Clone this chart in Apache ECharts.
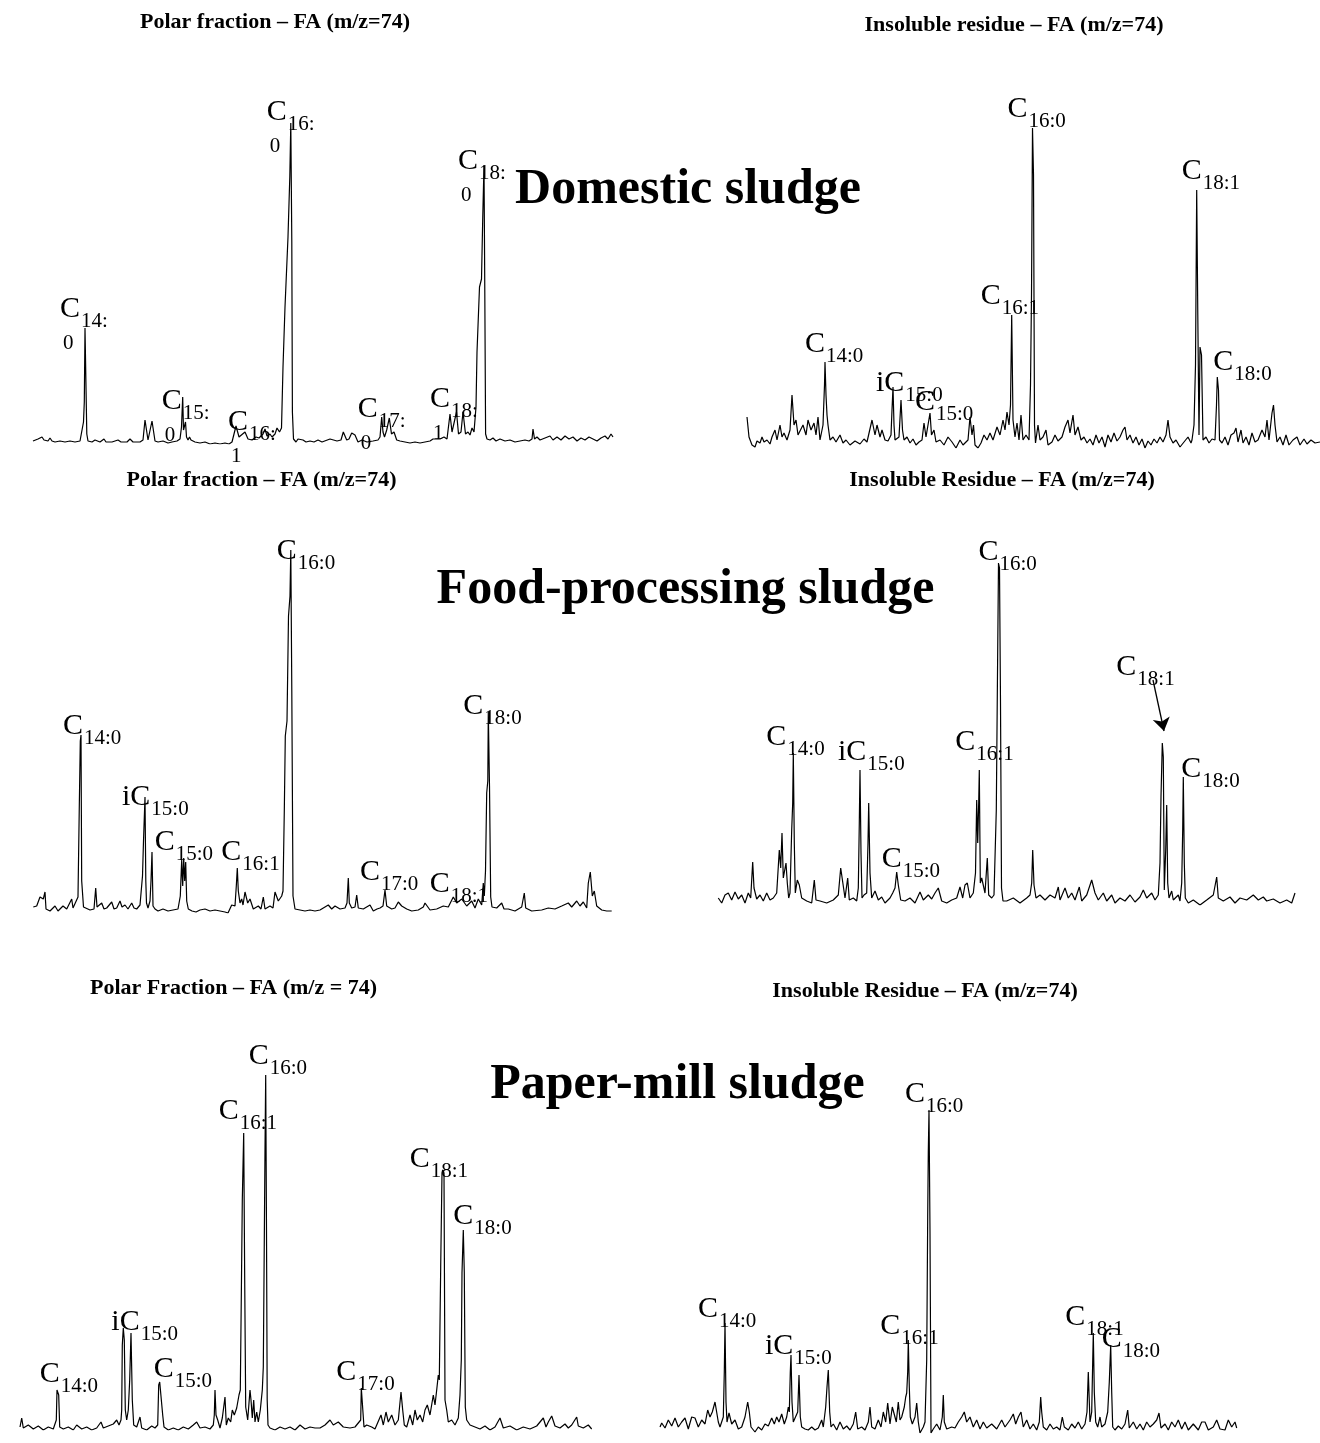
<!DOCTYPE html>
<html>
<head>
<meta charset="utf-8">
<script src="https://cdn.jsdelivr.net/npm/echarts@6/dist/echarts.min.js"></script>
<style>html,body{margin:0;padding:0;background:#fff}#c{width:1320px;height:1443px}</style>
</head>
<body>
<div id="c"></div>
<script>
// ---- Chromatogram traces: [scan position, abundance above baseline] ----
const p1Trace = [[3,1],[5,0],[8,3],[10,1],[12,5],[14,2],[16,4],[18,1],[20,4],[22,1],[25,0],[30,1],[35,0],[40,1],[45,0],[50,1],[52,3],[53.5,20],[54.3,40],[55,114],[56,112],[56.8,8],[58,1],[62,0],[65,2],[67,0],[70,0],[74,3],[76,0],[82,0],[88,2],[91,0],[97,0],[100,3],[103,0],[110,0],[113,2],[115,22],[116.5,20],[118,2],[120,3],[122,21],[123.5,20],[125,1],[128,0],[133,1],[138,-1],[142,0],[147,1],[150,3],[151.5,15],[152.7,45],[153.5,12],[154.5,10],[155.5,20],[156.5,5],[158,2],[159.5,5],[161,2],[165,0],[170,-1],[175,0],[180,-2],[185,-1],[190,-2],[195,-1],[199,-2],[202,0],[204,2],[206,16],[208,17],[209,5],[211,4],[215,10],[218,3],[222,2],[226,5],[229,4],[233,8],[235,13],[237,6],[240,8],[242,5],[245,8],[247,14],[249.5,10],[251.5,14],[253,75],[255,135],[258,205],[259.8,265],[260.8,319],[261.8,200],[262.4,30],[263.5,3],[266,0],[268,3],[270,1],[273,2],[276,0],[280,1],[284,0],[288,2],[292,0],[300,3],[307,1],[311,2],[313.3,10],[316.7,2],[319,3],[321.7,9],[325,7],[328,0],[332,2],[337,0],[343,1],[348,2],[350,5],[351.7,25],[353,10],[354.5,5],[356.7,12],[359.3,24],[361.5,8],[364,10],[366.7,2],[370,1],[375,0],[380,-1],[385,0],[390,-1],[395,0],[400,1],[403,3],[405,2],[410,3],[414,5],[417,3],[420,28],[422,10],[424,8],[426.5,30],[428.5,8],[431,10],[433,30],[435.5,8],[438,10],[440,7],[442,14],[444,10],[446,35],[447,90],[449.5,155],[451.5,163],[452.7,222],[454,277],[454.8,150],[455.6,8],[457,3],[460,2],[463,4],[466,1],[470,3],[475,1],[480,2],[485,0],[490,1],[495,2],[499,1],[502,3],[503,13],[504.5,3],[507,5],[510,2],[515,4],[520,6],[523,2],[527,5],[531,2],[535,6],[539,3],[543,5],[547,1],[551,4],[555,2],[559,5],[563,3],[567,1],[571,4],[575,6],[578,3],[581,8],[583,5]];

const p2Trace = [[7,28],[9,8],[12,0],[15,-2],[17,4],[20,2],[22,8],[24,3],[27,5],[30,1],[32,8],[35,15],[37,5],[40,20],[42,8],[44,12],[47,5],[50,15],[52,50],[54,20],[56,25],[58,10],[60,8],[63,20],[66,10],[68,25],[71,15],[74,22],[76,10],[78,28],[80,5],[83,20],[84.5,60],[85,83],[86,50],[87,30],[88,20],[90,5],[93,8],[96,3],[100,10],[103,2],[106,5],[110,0],[115,4],[120,1],[124,6],[127,3],[132,25],[135,10],[137,20],[140,8],[142,15],[145,5],[148,4],[151,10],[152,35],[153,58],[154,20],[155,5],[157,4],[159,8],[161,45],[162.5,15],[164,5],[167,8],[170,2],[173,6],[176,0],[179,3],[182,5],[184,22],[186,8],[188,10],[190,32],[191.5,10],[194,15],[196,3],[200,5],[204,0],[208,8],[212,3],[216,-3],[220,5],[223,0],[228,5],[230,28],[232,10],[233.5,20],[235,0],[238,-3],[241,2],[244,10],[247,5],[250,12],[253,5],[257,18],[260,10],[263,25],[265,15],[267,33],[269,20],[270.5,40],[271.7,130],[273,25],[275,8],[277,22],[279,5],[281,30],[283,5],[286,10],[289,5],[290.5,60],[291.5,150],[292.5,317],[293.5,270],[294.5,20],[295.5,2],[298,20],[300,5],[303,8],[306,15],[308,0],[312,3],[315,10],[318,4],[322,8],[325,18],[328,25],[330,12],[333,30],[335,10],[338,18],[341,5],[344,8],[347,2],[350,6],[353,0],[356,10],[359,2],[362,8],[365,-2],[368,10],[371,3],[374,12],[377,4],[380,8],[383,15],[385,18],[387,5],[390,10],[393,2],[396,8],[399,0],[402,6],[405,-3],[408,4],[411,0],[414,6],[417,2],[420,8],[423,3],[426,10],[428,25],[430,8],[433,2],[436,5],[440,-2],[444,3],[448,8],[451,2],[452,5],[454,20],[455.5,80],[456.7,255],[457.8,130],[459,10],[460,98],[461.5,90],[463,5],[466,8],[469,2],[472,6],[475,5],[476.5,40],[477.3,68],[478.5,55],[479.5,5],[482,2],[485,8],[488,0],[491,10],[494,12],[496,17],[498,3],[501,15],[503,2],[506,8],[509,0],[512,12],[515,3],[518,5],[522,15],[525,8],[527,25],[529,5],[532,32],[533.5,40],[535,20],[537,3],[540,8],[543,0],[546,10],[549,0],[553,5],[557,8],[560,0],[564,6],[567,1],[571,5],[575,2],[580,3]];

const p3Trace = [[3.3,4],[6.7,5],[10,14],[11.7,16],[13.3,12],[15,19],[16,2],[20,0],[25,5],[28,0],[33,5],[36.7,2],[41.7,12],[43,3],[45,4],[48,14],[49.3,105],[50.3,170],[51,176],[51.7,30],[53.5,4],[55,2],[60,1],[64,2],[65.7,23],[67,4],[71.7,8],[74,2],[76.7,3],[81.7,9],[84,2],[86.7,3],[90,10],[92,4],[95,6],[98,2],[101.7,8],[104,3],[106.7,2],[110,6],[111.5,8],[112.5,35],[113.5,70],[114.3,72],[115,114],[115.8,30],[116.5,8],[118,3],[120,10],[121,30],[122,59],[123,5],[125,2],[128,0],[133,2],[138,0],[143,1],[148,2],[150.3,15],[151.7,51],[152.7,25],[153.7,53],[154.7,30],[155.7,49],[156.7,10],[158.3,2],[162,0],[166,-1],[170,1],[175,2],[180,0],[185,1],[190,0],[195,-1],[198,-2],[201.7,6],[205,5],[206.3,25],[207.3,43],[208.3,20],[210,8],[211.7,12],[213,6],[215,19],[217.7,8],[220,12],[223.3,2],[228.3,5],[231,2],[233.3,14],[235,2],[240,5],[243,3],[245,19],[248.3,10],[251.7,15],[253,20],[254.3,100],[255.3,175],[257,190],[258.5,295],[260,315],[260.8,361],[261.8,220],[263,15],[265,2],[270,1],[275,0],[280,1],[285,0],[290,1],[298.3,6],[301.7,2],[305,5],[310,2],[315,3],[317,8],[318.3,33],[319.3,8],[321.7,3],[325,4],[326.7,16],[328.3,3],[333.3,2],[340,6],[343.3,0],[347,2],[350,3],[353,5],[355,21],[356.7,5],[361.7,2],[365,3],[368.3,9],[371.7,5],[376.7,2],[381.7,0],[388.3,1],[393.3,4],[395,8],[400,1],[406.7,2],[413.3,5],[418.3,4],[423.3,14],[426.7,8],[431.7,12],[436.7,5],[441.7,10],[445,3],[448.3,12],[451.7,6],[453.3,28],[454.3,15],[455.5,40],[456.7,118],[457.8,130],[458.3,199],[459.5,125],[460.7,14],[462,4],[466.7,3],[471.7,8],[474,2],[478.3,2],[485,0],[491.7,4],[494.3,18],[495.7,3],[501.7,0],[511.7,1],[518.3,3],[525,2],[531.7,5],[538.3,8],[541.7,4],[546.7,10],[550,5],[553.3,9],[556.7,3],[558.3,28],[560.3,39],[562.3,15],[564.3,20],[566.7,5],[571.7,1],[576.7,0],[581.7,0]];

const p4Trace = [[8.3,5],[11.7,0],[15,8],[18.3,10],[21.7,3],[25,11],[28.3,4],[31.7,8],[35,0],[38.3,10],[40.7,5],[42.7,41],[44,15],[46.7,4],[50,8],[53.3,2],[56.7,10],[60,3],[63.3,5],[66.7,10],[69.3,53],[70.7,35],[72,70],[73.3,25],[75,26],[76,40],[77.3,20],[78.7,5],[80,10],[81.7,73],[82.7,100],[83.3,150],[84.3,60],[85.3,10],[87.3,23],[89.3,18],[91.7,5],[96.7,2],[101.7,0],[104.3,23],[106,3],[110,2],[116.7,0],[123.3,3],[128.3,8],[130.7,35],[132.7,33],[135,5],[137.7,25],[139.3,3],[143.3,5],[146.7,2],[148.3,15],[149.3,80],[150,133],[151,50],[152,5],[154,8],[156.7,10],[158,60],[158.7,100],[160,30],[161.7,5],[165,12],[168.3,3],[171.7,6],[175,0],[180,5],[182.7,10],[185,15],[186.7,31],[188.3,18],[190.7,3],[195,2],[200,5],[205,0],[210,11],[213.3,3],[218.3,8],[221.7,4],[225,10],[228.3,15],[231.7,2],[236.7,0],[241.7,3],[246.7,5],[250,16],[252.7,5],[255,18],[257.3,20],[260,5],[263.3,10],[265.5,30],[266.7,103],[267.7,60],[268.7,100],[269.3,133],[270.3,20],[271.7,25],[273.3,26],[275,10],[277.3,45],[278.7,8],[281.7,5],[284,8],[285,10],[286.3,93],[287.5,230],[288.5,340],[289.5,335],[290.5,200],[291.5,15],[293,2],[296.7,2],[303.3,5],[310,0],[316.7,5],[320,8],[321.7,20],[322.7,53],[324,18],[326,5],[330,8],[335,3],[340,8],[345,5],[348.3,16],[350,3],[355,15],[358.3,5],[361.7,10],[365,3],[369.3,16],[371.7,2],[376.7,8],[381.7,23],[385,10],[388.3,3],[393.3,10],[396.7,2],[401.7,8],[405,0],[410,5],[415,2],[420,8],[425,1],[430,6],[433.3,13],[436.7,5],[441.7,10],[445,3],[448.3,8],[450,40],[451,106],[452.3,160],[453.3,146],[454.3,13],[455.7,53],[456.7,98],[457.7,20],[459,5],[461.7,12],[463.3,3],[468.3,8],[470,2],[471.7,20],[472.7,73],[473.3,126],[474.3,40],[475.3,5],[478.3,0],[483.3,3],[490,-2],[496.7,3],[503.3,8],[506.7,26],[508.3,5],[513.3,2],[520,6],[525,0],[530,5],[536.7,3],[543.3,8],[548.3,3],[553.3,6],[556.7,2],[563.3,4],[570,0],[576.7,3],[581.7,0],[585,10]];

const p5Trace = [[5,3],[6.7,12],[8.3,2],[13.3,5],[18.3,1],[23.3,4],[28.3,0],[33.3,3],[38.3,1],[41.3,10],[42,40],[42.7,42],[43.7,35],[44.7,3],[48.3,1],[53.3,3],[58.3,0],[61.7,5],[66.7,1],[71.7,3],[76.7,0],[81.7,2],[86,8],[88.3,2],[93.3,4],[98.3,6],[101.7,10],[104,5],[106,10],[106.7,20],[107.3,85],[108.3,102],[109.3,90],[110.3,20],[111.7,10],[113.3,20],[114.7,50],[116,97],[117.3,30],[118.7,5],[121.7,3],[125,13],[126.7,2],[131.7,0],[136.7,4],[140,2],[142.7,5],[143.7,45],[144.7,48],[145.7,46],[146.7,48],[147.7,15],[149,3],[153.3,0],[158.3,2],[163.3,0],[168.3,3],[173.3,1],[178.3,5],[181.7,8],[185,2],[190,3],[195,1],[198.3,5],[199.3,15],[200,40],[201,15],[202.7,10],[205,2],[207.3,12],[210,33],[211.3,5],[213.3,12],[215.7,8],[217.3,20],[219.3,15],[221.7,22],[224,35],[225.3,40],[226.3,133],[227.3,230],[228.7,297],[229.7,150],[230.7,23],[232.7,10],[235,40],[236,30],[237.3,12],[238.7,30],[240,8],[241.7,18],[243.3,8],[245.3,20],[247.3,40],[248.3,63],[249.3,190],[250,280],[250.7,355],[251.5,200],[252.2,30],[253,5],[255,2],[260,0],[265,3],[270,1],[275,3],[280,0],[285,5],[290,1],[295,3],[300,2],[305,2],[310,5],[315,10],[318.3,5],[323.3,8],[328.3,3],[335,2],[340,3],[345.7,10],[346.3,42],[347.7,40],[349,3],[351.7,5],[356.7,3],[360,1],[366,15],[368.3,5],[371,18],[373.3,8],[376.7,15],[380,5],[383.3,10],[386,38],[387.7,20],[389.3,5],[391.7,3],[395,15],[397.7,5],[400,20],[402.3,10],[405,15],[407.7,8],[410,20],[412.3,25],[415,15],[418.3,35],[420,25],[421.7,40],[423.3,55],[424.3,50],[425.7,163],[427,257],[427.7,260],[429,257],[430,30],[431.7,20],[433.3,8],[436.7,10],[440,5],[443.3,12],[445,35],[446.3,70],[447,157],[448.3,200],[449.3,157],[450.3,23],[451.7,10],[455,5],[460,3],[465,1],[470,4],[475,0],[480,3],[485,12],[488.3,2],[495,4],[501.7,0],[508.3,3],[515,1],[521.7,4],[528.3,12],[531,3],[533.3,8],[536.7,14],[540,4],[545,2],[550,6],[553.3,2],[556.7,5],[561.7,13],[563.3,4],[568.3,2],[573.3,5],[576.7,1]];

const p6Trace = [[5,5],[6.7,9],[10,4],[13.3,12],[16.7,6],[20,14],[23.3,5],[26.7,10],[30,14],[33.3,3],[36.7,15],[40,14],[43.3,5],[46.7,12],[50,8],[52.7,22],[55,15],[57.3,20],[60,30],[61.7,28],[63.3,10],[65,5],[66.7,3],[68.3,15],[69.3,60],[70,109],[71,30],[72,10],[74,19],[76.7,8],[80,12],[83.3,3],[86.7,5],[90,15],[92.7,30],[94.3,20],[96,5],[100,0],[103.3,5],[106.7,2],[110,8],[113.3,6],[116.7,14],[119.3,8],[121.7,15],[124,10],[126.7,18],[129.3,8],[131.7,15],[133.3,25],[134.3,20],[135.3,60],[136,77],[137,30],[138.3,10],[140,8],[142.7,20],[144,57],[145.3,15],[146.7,5],[150,3],[153.3,2],[156.7,5],[160,2],[163.3,4],[166.7,12],[168.3,5],[170.7,25],[172,45],[173.3,62],[174.7,20],[176,5],[178.3,8],[181.7,2],[185,10],[188.3,3],[191.7,6],[195,2],[198.3,8],[200.7,20],[202.7,3],[206.7,5],[210,2],[213.3,10],[215,25],[216.7,5],[220,3],[223.3,12],[226,5],[228.3,20],[230.7,10],[232.7,29],[235,8],[237.3,25],[239.3,27],[241.3,10],[243.3,30],[245,12],[246.7,15],[249.3,25],[250.7,35],[251.7,39],[252.7,60],[253.3,92],[254.3,45],[255.3,15],[257.3,8],[260,15],[261.7,29],[263.3,10],[265,-1],[268.3,5],[270,10],[271.7,72],[272.7,215],[273.3,280],[274,322],[275,200],[276,-1],[278.3,3],[281.7,8],[285,2],[287.3,15],[288.3,37],[289.3,10],[291.7,3],[296.7,5],[300,4],[303.3,10],[306.7,15],[309.3,20],[311.7,10],[315,15],[318.3,5],[321.7,12],[325,3],[328.3,10],[331.7,4],[336.7,8],[341.7,3],[346.7,12],[350,5],[355,12],[358.3,18],[360.7,8],[363.3,15],[366,20],[368.3,5],[371.7,12],[375,3],[378.3,8],[381.7,2],[384.3,10],[385.7,35],[386.7,20],[388.3,5],[391.7,2],[395,8],[398.3,3],[401.7,5],[405,2],[407.3,15],[409.3,5],[413.3,2],[416.7,8],[420,4],[423.3,10],[426.7,3],[430,8],[432,20],[433.3,60],[435,10],[436.7,20],[437.7,70],[438.3,99],[439.3,40],[440.7,10],[442.7,5],[445,15],[446.7,5],[450,8],[452.7,20],[454.3,50],[455.7,87],[456.7,40],[457.7,5],[460,2],[463.3,6],[466.7,3],[470,8],[472.7,22],[474.3,4],[478.3,10],[481.7,3],[485,8],[488.3,2],[491.7,10],[495,5],[498.3,8],[501.7,12],[504,19],[506,4],[510,8],[513.3,2],[516.7,10],[520,5],[523.3,12],[526.7,3],[530,10],[533.3,2],[538.3,8],[543.3,2],[546.7,10],[550,10],[553.3,2],[558.3,5],[561.7,12],[565,3],[570,2],[573.3,12],[576.7,5],[580,10],[581.7,4]];

// ---- Peak identifications ----
const p1Peaks = ['C14:0', 'C15:0', 'C16:1', 'C16:0', 'C17:0', 'C18:1', 'C18:0'];
const p1PeakX = [55, 152.7, 208, 260.8, 351.7, 420, 454];
const p2Peaks = ['C14:0', 'iC15:0', 'C15:0', 'C16:1', 'C16:0', 'C18:1', 'C18:0'];
const p2PeakX = [85, 153, 190, 271.7, 292.5, 456.7, 477.3];
const p3Peaks = ['C14:0', 'iC15:0', 'C15:0', 'C16:1', 'C16:0', 'C17:0', 'C18:1', 'C18:0'];
const p3PeakX = [51, 115, 153.7, 207.3, 260.8, 355, 431.7, 458.3];
const p4Peaks = ['C14:0', 'iC15:0', 'C15:0', 'C16:1', 'C16:0', 'C18:1', 'C18:0'];
const p4PeakX = [83.3, 150, 186.7, 269.3, 288.5, 452.3, 473.3];
const p5Peaks = ['C14:0', 'iC15:0', 'C15:0', 'C16:1', 'C16:0', 'C17:0', 'C18:1', 'C18:0'];
const p5PeakX = [42.7, 108.3, 144.7, 228.7, 250.7, 346.3, 427.7, 448.3];
const p6Peaks = ['C14:0', 'iC15:0', 'C16:1', 'C16:0', 'C18:1', 'C18:0'];
const p6PeakX = [70, 136, 253.3, 274, 438.3, 455.7];
// arrow pointing at C18:1 (food-processing, insoluble residue)
const p4Arrow = [[443, 223], [454, 172]];

// ---- Texts ----
const sampleTitles = ['Domestic sludge', 'Food-processing sludge', 'Paper-mill sludge'];
const panelTitles = [
  'Polar fraction \u2013 FA (m/z=74)', 'Insoluble residue \u2013 FA (m/z=74)',
  'Polar fraction \u2013 FA (m/z=74)', 'Insoluble Residue \u2013 FA (m/z=74)',
  'Polar Fraction \u2013 FA (m/z = 74)', 'Insoluble Residue \u2013 FA (m/z=74)'
];

// ---- Layout (pixel placement only) ----
const layout = [
  {origin: 30, base: 442, wrap: true,  offsets: [[-25,-28],[-21,-5],[-10,-12],[-24,-20],[-24,-17],[-20,-24],[-26,-13]]},
  {origin: 740, base: 445, wrap: false, offsets: [[-20,-27],[-17,-13],[-15,-20],[-31,-28],[-25,-28],[-15,-28],[-4,-24]]},
  {origin: 30, base: 911, wrap: false, offsets: [[-18,-18],[-23,-9],[-29,-25],[-16,-25],[-14,-8],[-25,-27],[-32,-24],[-25,-15]]},
  {origin: 710, base: 903, wrap: false, offsets: [[-27,-25],[-22,-27],[-15,-22],[-24,-37],[-20,-20],[-46,-85],[-2,-17]]},
  {origin: 15, base: 1430, wrap: false, offsets: [[-18,-23],[-12,-15],[-6,-22],[-25,-31],[-17,-28],[-25,-25],[-33,-20],[-10,-23]]},
  {origin: 655, base: 1432, wrap: false, offsets: [[-27,-23],[-26,-18],[-28,-23],[-24,-25],[-28,-25],[-9,-15]]}
];
const panelTitlePos = [[275, 22.6], [1014, 25.6], [261.5, 480.6], [1002, 480.6], [233.5, 988.6], [925, 991.6]];
const sampleTitlePos = [[688, 190], [685.5, 590], [677.5, 1085]];

const traces = [p1Trace, p2Trace, p3Trace, p4Trace, p5Trace, p6Trace];
const peaks = [p1Peaks, p2Peaks, p3Peaks, p4Peaks, p5Peaks, p6Peaks];
const peakXs = [p1PeakX, p2PeakX, p3PeakX, p4PeakX, p5PeakX, p6PeakX];

const SERIF = '"Liberation Serif", "Times New Roman", Times, serif';
const rich = {
  c: {fontFamily: SERIF, fontSize: 30, lineHeight: 32, verticalAlign: 'top', color: '#000'},
  s: {fontFamily: SERIF, fontSize: 21, lineHeight: 21, padding: [17, 0, 0, 1], verticalAlign: 'top', color: '#000'},
  w: {fontFamily: SERIF, fontSize: 21, lineHeight: 21, padding: [7, 0, 0, 3], verticalAlign: 'top', color: '#000'}
};
function fmt(name, wrap) {
  const m = name.match(/^(i?C)(.*)$/);
  const head = m[1], sub = m[2];
  if (wrap) {
    const k = sub.indexOf(':');
    return '{c|' + head + '}{s|' + sub.slice(0, k + 1) + '}\n{w|' + sub.slice(k + 1) + '}';
  }
  return '{c|' + head + '}{s|' + sub + '}';
}

const grids = [], xAxes = [], yAxes = [], series = [];
traces.forEach((tr, i) => {
  const L = layout[i];
  const xs = tr.map(p => p[0]), ys = tr.map(p => p[1]);
  const minX = Math.min(...xs), maxX = Math.max(...xs);
  const minY = Math.min(...ys), maxY = Math.max(...ys);
  grids.push({left: L.origin + minX, top: L.base - maxY, width: maxX - minX, height: maxY - minY, containLabel: false});
  xAxes.push({type: 'value', gridIndex: i, min: minX, max: maxX, show: false});
  yAxes.push({type: 'value', gridIndex: i, min: minY, max: maxY, show: false});
  const marks = peaks[i].map((name, k) => {
    const x = peakXs[i][k];
    let best = tr[0];
    tr.forEach(p => { if (Math.abs(p[0] - x) < Math.abs(best[0] - x)) best = p; });
    const o = L.offsets[k];
    return {name: name, coord: [best[0], best[1]],
      label: {show: true, position: [o[0] + 1, o[1] - 5], align: 'left', verticalAlign: 'top', formatter: fmt(name, L.wrap), rich: rich}};
  });
  const s = {
    type: 'line', xAxisIndex: i, yAxisIndex: i, data: tr,
    symbol: 'none', showSymbol: false, silent: true,
    lineStyle: {color: '#000', width: 1.2},
    markPoint: {symbol: 'circle', symbolSize: 2, silent: true, itemStyle: {color: 'rgba(0,0,0,0)'},
      label: {show: true, color: '#000', rich: rich}, data: marks}
  };
  if (i === 3) {
    s.markLine = {silent: true, symbol: ['none', 'arrow'], symbolSize: 13,
      lineStyle: {color: '#000', width: 1.3, type: 'solid'}, label: {show: false},
      data: [[{coord: p4Arrow[0]}, {coord: p4Arrow[1]}]]};
  }
  series.push(s);
});

const graphic = [];
panelTitles.forEach((t, i) => graphic.push({type: 'text', x: panelTitlePos[i][0], y: panelTitlePos[i][1],
  style: {text: t, font: 'bold 22px ' + SERIF, fill: '#000', align: 'center', verticalAlign: 'middle', textAlign: 'center', textVerticalAlign: 'middle'}}));
sampleTitles.forEach((t, i) => graphic.push({type: 'text', x: sampleTitlePos[i][0], y: sampleTitlePos[i][1],
  style: {text: t, font: 'bold 50px ' + SERIF, fill: '#000', align: 'center', verticalAlign: 'middle', textAlign: 'center', textVerticalAlign: 'middle'}}));

const chart = echarts.init(document.getElementById('c'), null, {renderer: 'canvas'});
chart.setOption({
  animation: false,
  backgroundColor: '#fff',
  grid: grids, xAxis: xAxes, yAxis: yAxes, series: series, graphic: graphic
});
</script>
</body>
</html>
